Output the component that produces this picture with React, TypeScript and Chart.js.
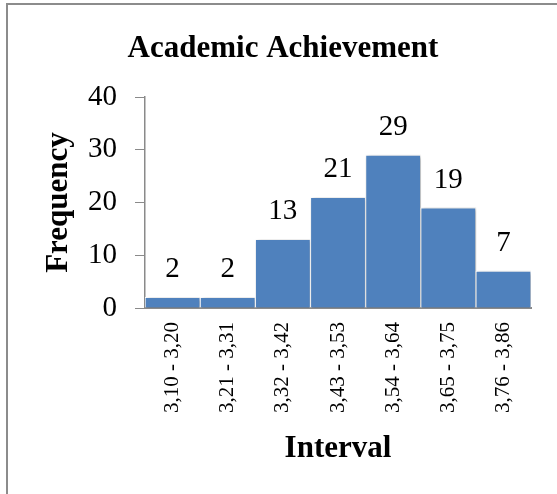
import React, { useEffect, useRef } from "react";
import { Chart, registerables } from "chart.js";

Chart.register(...registerables);

const categories = [
  "3,10 - 3,20",
  "3,21 - 3,31",
  "3,32 - 3,42",
  "3,43 - 3,53",
  "3,54 - 3,64",
  "3,65 - 3,75",
  "3,76 - 3,86",
];
const frequencies = [2, 2, 13, 21, 29, 19, 7];
const yTicks = [0, 10, 20, 30, 40];
const chartTitle = "Academic Achievement";
const xTitle = "Interval";
const yTitle = "Frequency";

const SERIF = '"Liberation Serif", "Times New Roman", Tinos, serif';
const AXIS_GRAY = "#8a8a8a";

const overlayPlugin = {
  id: "overlay",
  beforeDraw(chart: any) {
    const ctx = chart.ctx;
    ctx.save();
    ctx.fillStyle = "#ffffff";
    ctx.fillRect(0, 0, chart.width, chart.height);
    ctx.strokeStyle = "#8c8c8c";
    ctx.lineWidth = 2;
    ctx.strokeRect(7, 4, 800, 800);
    ctx.restore();
  },
  beforeDatasetsDraw(chart: any) {
    const ctx = chart.ctx;
    ctx.save();
    ctx.shadowColor = "rgba(0,0,0,0.3)";
    ctx.shadowBlur = 4;
    ctx.shadowOffsetX = 2;
    ctx.shadowOffsetY = 1;
  },
  afterDatasetsDraw(chart: any) {
    const ctx = chart.ctx;
    ctx.restore();
    const meta = chart.getDatasetMeta(0);
    const data = chart.data.datasets[0].data;
    ctx.save();
    ctx.fillStyle = "#000";
    ctx.font = `29px ${SERIF}`;
    ctx.textAlign = "center";
    ctx.textBaseline = "alphabetic";
    meta.data.forEach((bar: any, i: number) => {
      ctx.fillText(String(data[i]), bar.x, bar.y - 20);
    });
    ctx.restore();
  },
  afterDraw(chart: any) {
    const ctx = chart.ctx;
    const area = chart.chartArea;
    ctx.save();
    ctx.fillStyle = "#000";
    ctx.textAlign = "center";
    ctx.textBaseline = "alphabetic";
    ctx.font = `bold 31px ${SERIF}`;
    ctx.fillText(chartTitle, 283, 57);
    ctx.fillText(xTitle, (area.left + area.right) / 2, 457);
    ctx.translate(67, (area.top + area.bottom) / 2);
    ctx.rotate(-Math.PI / 2);
    ctx.fillText(yTitle, 0, 0);
    ctx.restore();
  },
};

export default function App() {
  const canvasRef = useRef<HTMLCanvasElement | null>(null);

  useEffect(() => {
    if (!canvasRef.current) return;
    const chart = new Chart(canvasRef.current, {
      type: "bar",
      data: {
        labels: categories,
        datasets: [
          {
            data: frequencies,
            backgroundColor: "#4F81BD",
            borderColor: "#ffffff",
            borderWidth: 1,
            borderSkipped: "start",
            barPercentage: 1,
            categoryPercentage: 1,
          },
        ],
      },
      options: {
        responsive: false,
        animation: false,
        devicePixelRatio: 1,
        layout: { padding: { left: 0, top: 97, right: 26, bottom: 0 } },
        plugins: {
          legend: { display: false },
          title: { display: false },
          tooltip: { enabled: false },
        },
        scales: {
          x: {
            offset: true,
            grid: { display: false, drawTicks: false },
            border: { display: true, color: AXIS_GRAY, width: 2 },
            ticks: {
              minRotation: 90,
              maxRotation: 90,
              autoSkip: false,
              padding: 14,
              color: "#000",
              font: { family: SERIF, size: 21 },
            },
            afterFit: (s: any) => {
              s.height = 186;
            },
          },
          y: {
            min: 0,
            max: 40,
            grid: {
              display: true,
              drawOnChartArea: false,
              drawTicks: true,
              tickLength: 10,
              color: AXIS_GRAY,
              lineWidth: 1,
            },
            border: { display: true, color: AXIS_GRAY, width: 1.5 },
            ticks: {
              padding: 18,
              color: "#000",
              font: { family: SERIF, size: 29 },
            },
            afterBuildTicks: (s: any) => {
              s.ticks = yTicks.map((v) => ({ value: v }));
            },
            afterFit: (s: any) => {
              s.width = 145;
            },
          },
        },
      },
      plugins: [overlayPlugin],
    });
    return () => chart.destroy();
  }, []);

  return (
    <div style={{ position: "absolute", left: 0, top: 0, width: 557, height: 494 }}>
      <canvas ref={canvasRef} width={557} height={494} style={{ display: "block" }} />
    </div>
  );
}
